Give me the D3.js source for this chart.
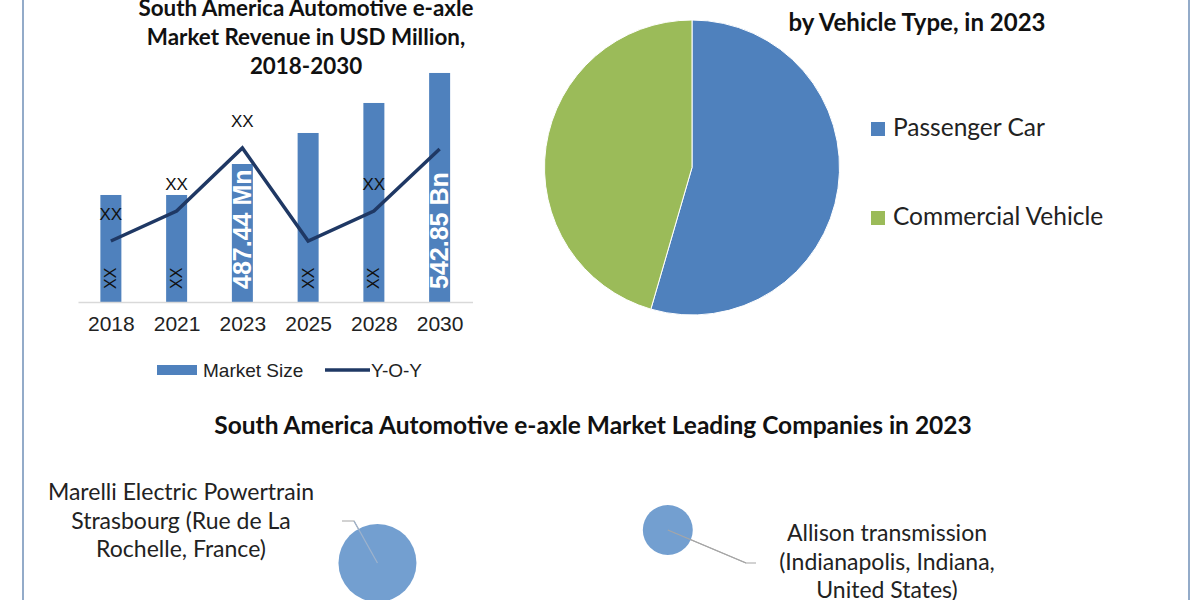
<!DOCTYPE html>
<html>
<head>
<meta charset="utf-8">
<script src="https://cdn.jsdelivr.net/npm/d3@7"></script>
<style>
  body { margin: 0; background: #fff; }
  svg { display: block; }
</style>
</head>
<body>
<div id="chart"></div>
<script>
// bar + line chart data
const years = ["2018", "2021", "2023", "2025", "2028", "2030"];
const marketSize = [378, 378, 487.44, 597, 703, 809];
const yoy = [6.1, 9.1, 15.4, 6.1, 9.1, 15.3];
const yoyLabels = ["XX", "XX", "XX", "", "XX", ""];
const barLabels = ["XX", "XX", "487.44 Mn", "XX", "XX", "542.85 Bn"];

// pie data
const vehicleTypes = ["Passenger Car", "Commercial Vehicle"];
const vehicleShare = [54.5, 45.5];

// bubble data
const companies = [
    ["Marelli Electric Powertrain", "Strasbourg (Rue de La", "Rochelle, France)"],
    ["Allison transmission", "(Indianapolis, Indiana,", "United States)"],
    [""]
];
const companyX = [3.04, 5.53, 5.16];
const companyY = [2.47, 4.67, -1.95];
const companySize = [100, 41, 52];

const svg = d3.select("#chart").append("svg")
    .attr("width", 1200)
    .attr("height", 600);

// frame lines left / right
svg.selectAll(".frame")
    .data([23, 1189])
    .join("line")
    .attr("x1", d => d).attr("x2", d => d)
    .attr("y1", 0).attr("y2", 600)
    .attr("stroke", "#93abc9")
    .attr("stroke-width", 2);

const titleFont = "Lato, 'Open Sans', sans-serif";
const armFont = "'Liberation Sans', Arial, sans-serif";

// ---------- bar chart ----------
const x = d3.scalePoint()
    .domain(years)
    .range([78, 472.5])
    .padding(0.5);

const y = d3.scaleLinear()
    .domain([0, 900])
    .range([302, 47.2]);

const yLine = d3.scaleLinear()
    .domain([0, 25])
    .range([302, 52]);

const barW = 21;

svg.append("text")
    .attr("x", 306)
    .attr("text-anchor", "middle")
    .style("font-family", titleFont)
    .style("font-weight", "bold")
    .style("font-size", "22.4px")
    .attr("fill", "#111")
    .selectAll("tspan")
    .data(["South America Automotive e-axle", "Market Revenue in USD Million,", "2018-2030"])
    .join("tspan")
    .attr("x", 306)
    .attr("y", (d, i) => 16 + i * 29)
    .text(d => d);

svg.selectAll(".bar")
    .data(years)
    .join("rect")
    .attr("class", "bar")
    .attr("x", d => x(d) - barW / 2)
    .attr("y", (d, i) => y(marketSize[i]))
    .attr("width", barW)
    .attr("height", (d, i) => y(0) - y(marketSize[i]))
    .attr("fill", "#4f81bd");

// x axis
const xAxis = svg.append("g")
    .attr("transform", `translate(0,${y(0)})`)
    .call(d3.axisBottom(x).tickSize(0).tickPadding(14));
xAxis.select(".domain").attr("stroke", "#d9d9d9").attr("stroke-width", 1.5);
xAxis.selectAll("text")
    .style("font-family", armFont)
    .style("font-size", "21px")
    .attr("fill", "#222");

// rotated labels inside bars
svg.selectAll(".barlabel")
    .data(years)
    .join("text")
    .attr("class", "barlabel")
    .attr("transform", d => `translate(${x(d)},${y(0) - 13}) rotate(-90)`)
    .attr("dy", "0.35em")
    .style("font-family", armFont)
    .style("font-size", (d, i) => barLabels[i] === "XX" ? "16px" : "25px")
    .style("font-weight", (d, i) => barLabels[i] === "XX" ? "normal" : "bold")
    .attr("fill", (d, i) => barLabels[i] === "XX" ? "#111" : "#fff")
    .text((d, i) => barLabels[i]);

// Y-O-Y line
svg.append("path")
    .datum(years)
    .attr("fill", "none")
    .attr("stroke", "#1f3864")
    .attr("stroke-width", 3.5)
    .attr("d", d3.line()
        .x(d => x(d))
        .y((d, i) => yLine(yoy[i])));

svg.selectAll(".yoylabel")
    .data(years)
    .join("text")
    .attr("class", "yoylabel")
    .attr("x", d => x(d))
    .attr("y", (d, i) => yLine(yoy[i]) - 21)
    .attr("text-anchor", "middle")
    .style("font-family", armFont)
    .style("font-size", "17px")
    .attr("fill", "#111")
    .text((d, i) => yoyLabels[i]);

// legend
svg.append("rect")
    .attr("x", 157).attr("y", 365)
    .attr("width", 40).attr("height", 10)
    .attr("fill", "#4f81bd");
svg.append("text")
    .attr("x", 203).attr("y", 370)
    .attr("dy", "0.35em")
    .style("font-family", armFont)
    .style("font-size", "19px")
    .attr("fill", "#222")
    .text("Market Size");
svg.append("line")
    .attr("x1", 325).attr("x2", 370)
    .attr("y1", 370).attr("y2", 370)
    .attr("stroke", "#1f3864")
    .attr("stroke-width", 3.5);
svg.append("text")
    .attr("x", 371).attr("y", 370)
    .attr("dy", "0.35em")
    .style("font-family", armFont)
    .style("font-size", "19px")
    .attr("fill", "#222")
    .text("Y-O-Y");

// ---------- pie ----------
const pieColor = d3.scaleOrdinal()
    .domain(vehicleTypes)
    .range(["#4f81bd", "#9bbb59"]);

const pie = d3.pie().sort(null).value(d => d)(vehicleShare);
const arc = d3.arc().innerRadius(0).outerRadius(147.5);

svg.append("g")
    .attr("transform", "translate(692,167.5)")
    .selectAll("path")
    .data(pie)
    .join("path")
    .attr("d", arc)
    .attr("fill", (d, i) => pieColor(vehicleTypes[i]))
    .attr("stroke", "#fff")
    .attr("stroke-width", 1);

svg.append("text")
    .attr("x", 917).attr("y", 31)
    .attr("text-anchor", "middle")
    .style("font-family", titleFont)
    .style("font-weight", "bold")
    .style("font-size", "24px")
    .attr("fill", "#111")
    .text("by Vehicle Type, in 2023");

const pieLegend = svg.selectAll(".pielegend")
    .data(vehicleTypes)
    .join("g")
    .attr("class", "pielegend")
    .attr("transform", (d, i) => `translate(871,${122 + i * 89})`);
pieLegend.append("rect")
    .attr("width", 14).attr("height", 14)
    .attr("fill", d => pieColor(d));
pieLegend.append("text")
    .attr("x", 22).attr("y", 14)
    .style("font-family", titleFont)
    .style("font-size", "24.5px")
    .attr("fill", "#222")
    .text(d => d);

// ---------- bubbles ----------
svg.append("text")
    .attr("x", 593).attr("y", 434)
    .attr("text-anchor", "middle")
    .style("font-family", titleFont)
    .style("font-weight", "bold")
    .style("font-size", "24.5px")
    .attr("fill", "#111")
    .text("South America Automotive e-axle Market Leading Companies in 2023");

const bx = d3.scaleLinear().domain([0, 10]).range([23, 1189]);
const by = d3.scaleLinear().domain([0, 10]).range([600, 450]);
const br = d3.scaleSqrt().domain([0, 100]).range([0, 39]);

// leader lines
svg.append("path")
    .attr("d", `M342,521 H354 L${bx(companyX[0])},${by(companyY[0])}`)
    .attr("fill", "none").attr("stroke", "#a6a6a6").attr("stroke-width", 1.2);
svg.append("path")
    .attr("d", `M${bx(companyX[1])},${by(companyY[1])} L746,563 H756`)
    .attr("fill", "none").attr("stroke", "#a6a6a6").attr("stroke-width", 1.2);

svg.selectAll(".bubble")
    .data(companies)
    .join("circle")
    .attr("class", "bubble")
    .attr("cx", (d, i) => bx(companyX[i]))
    .attr("cy", (d, i) => by(companyY[i]))
    .attr("r", (d, i) => br(companySize[i]))
    .attr("fill", "#739fd0")
    .attr("opacity", (d, i) => i === 2 ? 0.3 : 1);

// redraw the inner part of the leaders over the bubbles
svg.append("line")
    .attr("x1", 354).attr("y1", 521)
    .attr("x2", bx(companyX[0])).attr("y2", by(companyY[0]))
    .attr("stroke", "#9fb3cc").attr("stroke-width", 1.2);
svg.append("line")
    .attr("x1", bx(companyX[1])).attr("y1", by(companyY[1]))
    .attr("x2", 746).attr("y2", 563)
    .attr("stroke", "#a6a6a6").attr("stroke-width", 1.2);

const labelPos = [[181, 500], [887, 541]];
labelPos.forEach((p, i) => {
    svg.append("text")
        .attr("text-anchor", "middle")
        .style("font-family", titleFont)
        .style("font-size", "23px")
        .attr("fill", "#222")
        .selectAll("tspan")
        .data(companies[i])
        .join("tspan")
        .attr("x", p[0])
        .attr("y", (d, j) => p[1] + j * 28.5)
        .text(d => d);
});
</script>
</body>
</html>
